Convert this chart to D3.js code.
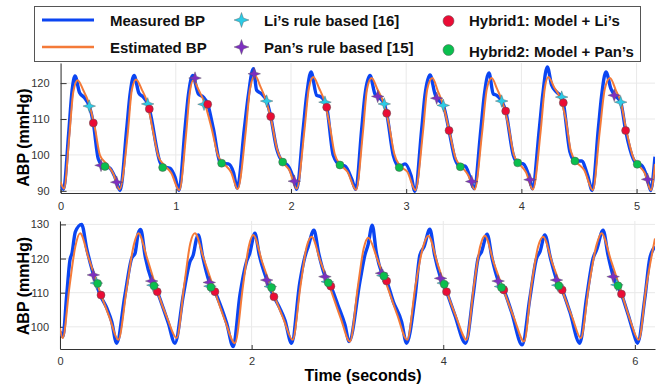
<!DOCTYPE html>
<html>
<head>
<meta charset="utf-8">
<script src="https://cdn.jsdelivr.net/npm/d3@7/dist/d3.min.js"></script>
<style>
  body { margin: 0; background: #fff; }
  svg { display: block; font-family: "Liberation Sans", Arial, Helvetica, sans-serif; }
  .axis path, .axis line { stroke: #333; }
  .axis text { fill: #333; font-size: 11px; font-family: "Liberation Sans", Arial, sans-serif; }
</style>
</head>
<body>
<svg id="chart" width="661" height="387"></svg>
<script>
// ---------- data (time in s, pressure in mmHg) ----------
const measuredTop = [
  [0, 91.6], [0.025, 90.4], [0.07, 106], [0.1, 118], [0.125, 122.0], [0.165, 117.3], [0.205, 116.0], [0.249, 113.6], [0.284, 108.9], [0.327, 98.9], [0.356, 97.3], [0.385, 96.9], [0.429, 96.3], [0.472, 93.8], [0.516, 90.1],
  [0.574, 107.3], [0.602, 116.6], [0.638, 122.1], [0.68, 117.2], [0.715, 116.2], [0.756, 114.2], [0.77, 112.8], [0.863, 98.0], [0.886, 96.8], [0.95, 96.3], [0.993, 93.8], [1.028, 90.1],
  [1.08, 107.3], [1.109, 116.6], [1.147, 122.1], [1.196, 117.0], [1.239, 116.1], [1.277, 114.1], [1.326, 107.3], [1.384, 98.0], [1.41, 97.6], [1.456, 97.5], [1.5, 95.2], [1.534, 90.8],
  [1.595, 107.3], [1.63, 116.6], [1.673, 124.0], [1.702, 118.0], [1.745, 117.0], [1.789, 115.0], [1.824, 110.7], [1.876, 101.7], [1.928, 98.0], [1.971, 97.1], [2.029, 92.7], [2.049, 90.4],
  [2.106, 107.3], [2.136, 116.6], [2.174, 123.1], [2.223, 116.6], [2.26, 116.2], [2.295, 114.7], [2.31, 113.3], [2.367, 99.9], [2.425, 97.2], [2.469, 96.9], [2.527, 93.3], [2.562, 90.4],
  [2.614, 107.3], [2.642, 116.6], [2.686, 122.1], [2.729, 117.0], [2.753, 116.3], [2.81, 114.2], [2.831, 111.6], [2.888, 99.9], [2.94, 96.7], [2.99, 97.5], [3.042, 94.3], [3.076, 89.9],
  [3.135, 107.3], [3.163, 116.6], [3.207, 122.3], [3.25, 117.0], [3.265, 115.9], [3.322, 113.8], [3.372, 106.8], [3.424, 98.9], [3.47, 96.8], [3.51, 96.9], [3.554, 93.8], [3.589, 90.6],
  [3.649, 107.3], [3.678, 116.6], [3.719, 122.8], [3.756, 117.0], [3.786, 116.6], [3.829, 115.0], [3.864, 112.2], [3.93, 99.9], [3.968, 97.8], [4.017, 97.5], [4.075, 93.1], [4.095, 90.6],
  [4.156, 107.3], [4.185, 116.6], [4.225, 124.5], [4.263, 119.4], [4.306, 117.5], [4.35, 116.1], [4.364, 114.5], [4.422, 100.8], [4.465, 98.3], [4.523, 98.3], [4.575, 94.3], [4.615, 90.1],
  [4.668, 107.3], [4.697, 116.6], [4.734, 123.1], [4.778, 118.4], [4.806, 116.8], [4.862, 114.7], [4.905, 106.8], [4.971, 98.9], [5.006, 97.4], [5.044, 97.1], [5.096, 93.2], [5.122, 90.1], [5.16, 99.5]
];
const estimatedTop = [
  [0, 92.5], [0.03, 90.6], [0.075, 105], [0.11, 117.5], [0.148, 120.8], [0.197, 118.0], [0.241, 114.8], [0.298, 107.5], [0.342, 99.9], [0.40, 97.5], [0.457, 94.8], [0.512, 90.4],
  [0.583, 106], [0.618, 118], [0.655, 121.0], [0.705, 118.2], [0.75, 114.8], [0.80, 107], [0.85, 99.5], [0.905, 97.0], [0.96, 95.0], [1.03, 90.2],
  [1.09, 106], [1.122, 117.5], [1.152, 120.8], [1.20, 118.0], [1.25, 114.5], [1.31, 107.5], [1.37, 99.5], [1.42, 97.5], [1.48, 95.2], [1.537, 90.5],
  [1.607, 106.5], [1.645, 118.5], [1.688, 122.1], [1.735, 119.0], [1.785, 115.0], [1.83, 109.5], [1.88, 101.5], [1.935, 97.8], [1.985, 95.8], [2.05, 90.6],
  [2.117, 107], [2.155, 118.5], [2.194, 121.7], [2.245, 118.5], [2.29, 115.0], [2.335, 108.5], [2.38, 100.2], [2.43, 97.3], [2.49, 95.3], [2.565, 90.3],
  [2.625, 106.5], [2.66, 118.3], [2.70, 121.4], [2.75, 118.3], [2.80, 114.8], [2.85, 108.5], [2.895, 100.5], [2.945, 97.0], [3.01, 95.3], [3.08, 90.2],
  [3.146, 106.5], [3.183, 118.3], [3.227, 121.4], [3.275, 117.8], [3.32, 114.0], [3.375, 106.5], [3.43, 99.0], [3.48, 96.8], [3.54, 94.3], [3.595, 90.4],
  [3.66, 106.5], [3.70, 118.3], [3.742, 121.4], [3.79, 118.3], [3.835, 114.8], [3.885, 108.5], [3.935, 100.0], [3.98, 97.6], [4.04, 95.2], [4.10, 90.4],
  [4.167, 106.5], [4.203, 118.5], [4.234, 121.7], [4.285, 118.8], [4.335, 116.0], [4.385, 110.0], [4.43, 101.0], [4.48, 98.0], [4.545, 95.8], [4.62, 90.2],
  [4.68, 106.5], [4.725, 118.5], [4.769, 121.4], [4.82, 118.0], [4.865, 114.5], [4.91, 107.0], [4.975, 99.0], [5.015, 97.2], [5.07, 95.0], [5.125, 90.2], [5.16, 97.5]
];
const liTop = [[0.249, 113.6], [0.756, 114.2], [1.245, 114.1], [1.789, 115.0], [2.295, 114.7], [2.81, 114.2], [3.322, 113.8], [3.829, 115.0], [4.35, 116.1], [4.862, 114.7]];
const panTop = [[0.351, 97.1], [0.487, 92.4], [1.167, 121.4], [1.681, 122.6], [2.029, 92.7], [2.753, 116.3], [3.265, 115.8], [3.569, 92.6], [4.075, 93.1], [4.806, 116.6], [5.096, 93.2]];
const hybrid1Top = [[0.284, 108.9], [0.77, 112.8], [1.277, 114.1], [1.824, 110.7], [2.31, 113.3], [2.831, 111.6], [3.372, 106.8], [3.864, 112.2], [4.364, 114.5], [4.905, 106.8]];
const hybrid2Top = [[0.385, 96.8], [0.886, 96.5], [1.398, 97.7], [1.928, 98.0], [2.425, 97.2], [2.94, 96.5], [3.47, 96.7], [3.968, 97.8], [4.465, 98.3], [5.006, 97.4]];

const measuredBottom = [
  [0, 98.6], [0.03, 97.1], [0.07, 109.3], [0.104, 119.6], [0.125, 121.5], [0.16, 127.8], [0.226, 130.0], [0.278, 123.0], [0.348, 115.4], [0.42, 109.3], [0.49, 105.4], [0.54, 101.5], [0.591, 95.2],
  [0.678, 109.3], [0.748, 120.1], [0.783, 121.5], [0.817, 127.4], [0.842, 128.5], [0.89, 120.5], [0.957, 113.6], [1.015, 110.3], [1.078, 105.4], [1.13, 101.1], [1.2, 95.2],
  [1.287, 109.3], [1.356, 119.1], [1.39, 121.0], [1.426, 125.9], [1.443, 126.9], [1.49, 120.5], [1.558, 113.2], [1.617, 110.3], [1.687, 105.4], [1.739, 101.1], [1.808, 94.2],
  [1.878, 109.3], [1.947, 119.1], [1.98, 121.5], [2.034, 127.4], [2.08, 121.0], [2.157, 113.9], [2.233, 108.8], [2.295, 105.4], [2.347, 102.0], [2.417, 95.2],
  [2.504, 113.2], [2.556, 120.5], [2.59, 123.5], [2.65, 128.3], [2.70, 121.5], [2.765, 114.9], [2.827, 111.8], [2.90, 106.4], [2.974, 100.6], [3.018, 95.7],
  [3.13, 113.2], [3.182, 121.0], [3.215, 124.0], [3.259, 129.8], [3.30, 122.0], [3.356, 115.9], [3.409, 113.4], [3.478, 107.4], [3.565, 101.5], [3.617, 95.2],
  [3.704, 108.4], [3.756, 121.0], [3.80, 123.5], [3.86, 128.6], [3.91, 121.0], [3.972, 114.4], [4.034, 110.3], [4.12, 103.5], [4.233, 95.2],
  [4.312, 109.3], [4.364, 120.1], [4.40, 122.0], [4.458, 127.1], [4.51, 120.0], [4.573, 113.6], [4.632, 110.8], [4.712, 104.4], [4.824, 94.7],
  [4.904, 108.4], [4.974, 120.1], [5.01, 122.0], [5.06, 126.9], [5.12, 120.0], [5.182, 113.9], [5.241, 110.8], [5.321, 104.4], [5.425, 95.2],
  [5.495, 108.4], [5.564, 120.1], [5.60, 122.5], [5.668, 128.3], [5.72, 121.0], [5.773, 114.9], [5.86, 109.6], [5.93, 103.5], [5.982, 98.6], [6.027, 95.2],
  [6.104, 108.4], [6.156, 120.1], [6.21, 123.5]
];
const estimatedBottom = [
  [0, 99.6], [0.028, 96.7], [0.10, 112], [0.16, 123.5], [0.209, 127.4], [0.30, 120], [0.42, 110], [0.52, 102.5], [0.608, 96.2],
  [0.70, 112], [0.77, 124], [0.817, 127.4], [0.91, 120], [1.02, 110], [1.12, 102.5], [1.217, 96.7],
  [1.30, 113], [1.36, 124.5], [1.408, 127.4], [1.50, 120], [1.62, 110], [1.72, 102], [1.826, 95.2],
  [1.91, 112], [1.97, 123.5], [2.017, 126.9], [2.11, 119], [2.23, 109.5], [2.33, 102.5], [2.428, 96.2],
  [2.51, 112], [2.575, 123.5], [2.626, 126.4], [2.72, 119], [2.83, 110.5], [2.93, 102.5], [3.026, 95.7],
  [3.11, 112], [3.17, 123], [3.217, 126.1], [3.31, 120], [3.42, 111.5], [3.52, 103.5], [3.624, 96.2],
  [3.71, 112], [3.79, 123.5], [3.843, 126.7], [3.94, 118.5], [4.04, 110], [4.14, 102.5], [4.243, 96.2],
  [4.32, 112], [4.385, 123.5], [4.434, 126.7], [4.53, 118.5], [4.64, 110], [4.74, 102.5], [4.844, 95.7],
  [4.92, 112], [4.99, 123.5], [5.042, 126.4], [5.14, 118.5], [5.25, 110], [5.35, 102.5], [5.435, 96.7],
  [5.52, 112], [5.60, 124], [5.651, 127.4], [5.75, 119.5], [5.86, 110], [5.95, 102], [6.04, 96.2],
  [6.12, 112], [6.21, 125.9]
];
const liBottom = [[0.38, 112.8], [0.97, 112.2], [1.565, 111.9], [2.195, 111.8], [2.79, 113.2], [3.37, 115.0], [4.0, 112.8], [4.598, 111.8], [5.195, 112.2], [5.812, 112.3]];
const panBottom = [[0.348, 115.2], [0.957, 113.4], [1.558, 113.0], [2.157, 113.7], [2.765, 114.7], [3.356, 115.7], [3.972, 114.2], [4.573, 113.4], [5.182, 113.7], [5.773, 114.7]];
const hybrid1Bottom = [[0.428, 109.3], [1.015, 110.3], [1.617, 110.3], [2.233, 108.8], [2.827, 111.9], [3.409, 113.4], [4.034, 110.3], [4.632, 110.8], [5.241, 110.8], [5.86, 109.6]];
const hybrid2Bottom = [[0.393, 112.7], [0.981, 112.0], [1.575, 111.6], [2.208, 111.5], [2.8, 112.9], [3.38, 114.9], [4.01, 112.5], [4.608, 111.5], [5.206, 112.0], [5.825, 112.0]];

const topXTicks = [0, 1, 2, 3, 4, 5];
const topYTicks = [90, 100, 110, 120];
const bottomXTicks = [0, 2, 4, 6];
const bottomYTicks = [100, 110, 120, 130];

const legendNames = ['Measured BP', 'Estimated BP', 'Li\u2019s rule based [16]', 'Pan\u2019s rule based [15]', 'Hybrid1: Model + Li\u2019s', 'Hybrid2: Model + Pan\u2019s'];

// ---------- styles ----------
const colors = {
    measured: '#0b45f2',
    estimated: '#f47a38',
    li: '#2ccbe6',
    pan: '#7d2fc0',
    hybrid1: '#ea0c35',
    hybrid2: '#0abf4e'
};

const svg = d3.select('#chart');

// 4角星
const starPath = (r) => {
    const w = r * 0.26;
    return `M0,${-r}L${w},${-w}L${r},0L${w},${w}L0,${r}L${-w},${w}L${-r},0L${-w},${-w}Z`;
};

function drawPanel(cfg) {
    const x = d3.scaleLinear().domain(cfg.xDomain).range([cfg.left, cfg.right]);
    const y = d3.scaleLinear().domain(cfg.yDomain).range([cfg.bottom, cfg.top]);
    const g = svg.append('g');

    // 网格
    g.append('g').selectAll('line').data(cfg.xTicks).enter().append('line')
        .attr('x1', d => x(d)).attr('x2', d => x(d))
        .attr('y1', cfg.top).attr('y2', cfg.bottom)
        .attr('stroke', '#e9e9e9');
    g.append('g').selectAll('line').data(cfg.yTicks).enter().append('line')
        .attr('x1', cfg.left).attr('x2', cfg.right)
        .attr('y1', d => y(d)).attr('y2', d => y(d))
        .attr('stroke', '#e9e9e9');

    // 坐标轴
    g.append('g').attr('class', 'axis')
        .attr('transform', `translate(0, ${cfg.bottom})`)
        .call(d3.axisBottom(x).tickValues(cfg.xTicks).tickFormat(d3.format('d')).tickSizeInner(-4).tickSizeOuter(0).tickPadding(cfg.xPad));
    g.append('g').attr('class', 'axis')
        .attr('transform', `translate(${cfg.left}, 0)`)
        .call(d3.axisLeft(y).tickValues(cfg.yTicks).tickFormat(d3.format('d')).tickSizeInner(-6).tickSizeOuter(0).tickPadding(11));

    const clipId = 'clip_' + cfg.name;
    svg.append('clipPath').attr('id', clipId).append('rect')
        .attr('x', cfg.left).attr('y', cfg.top - 6)
        .attr('width', cfg.right - cfg.left).attr('height', cfg.bottom - cfg.top + 6);

    const line = d3.line().x(d => x(d[0])).y(d => y(d[1])).curve(d3.curveMonotoneX);
    const plot = g.append('g').attr('clip-path', `url(#${clipId})`);
    plot.append('path').datum(cfg.measured)
        .attr('d', line).attr('fill', 'none')
        .attr('stroke', colors.measured).attr('stroke-width', 3.4).attr('stroke-linejoin', 'round');
    plot.append('path').datum(cfg.estimated)
        .attr('d', line).attr('fill', 'none')
        .attr('stroke', colors.estimated).attr('stroke-width', 2).attr('stroke-linejoin', 'round');

    // 标记点
    const drawStars = (data, color) => {
        g.append('g').selectAll('path').data(data).enter().append('path')
            .attr('d', starPath(6.3))
            .attr('transform', d => `translate(${x(d[0])}, ${y(d[1])})`)
            .attr('fill', color).attr('stroke', '#555').attr('stroke-width', 0.4);
    };
    const drawDots = (data, color) => {
        g.append('g').selectAll('circle').data(data).enter().append('circle')
            .attr('cx', d => x(d[0])).attr('cy', d => y(d[1])).attr('r', 4)
            .attr('fill', color).attr('stroke', '#555').attr('stroke-width', 0.5);
    };
    drawStars(cfg.li, colors.li);
    drawStars(cfg.pan, colors.pan);
    drawDots(cfg.hybrid1, colors.hybrid1);
    drawDots(cfg.hybrid2, colors.hybrid2);

    svg.append('text')
        .attr('transform', `translate(29, ${cfg.labelY}) rotate(-90)`)
        .attr('text-anchor', 'middle')
        .style('font-size', '16px').style('font-weight', 'bold')
        .text('ABP (mmHg)');
}

drawPanel({
    name: 'top', left: 60.6, right: 655, top: 63, bottom: 193,
    xDomain: [0, 5.16], yDomain: [89.4, 125.6],
    xTicks: topXTicks, yTicks: topYTicks, xPad: 9, labelY: 137.5,
    measured: measuredTop, estimated: estimatedTop,
    li: liTop, pan: panTop, hybrid1: hybrid1Top, hybrid2: hybrid2Top
});
drawPanel({
    name: 'bottom', left: 60, right: 655, top: 221, bottom: 349,
    xDomain: [0, 6.21], yDomain: [93.5, 131],
    xTicks: bottomXTicks, yTicks: bottomYTicks, xPad: 8, labelY: 286,
    measured: measuredBottom, estimated: estimatedBottom,
    li: liBottom, pan: panBottom, hybrid1: hybrid1Bottom, hybrid2: hybrid2Bottom
});

svg.append('text')
    .attr('x', 363).attr('y', 381)
    .attr('text-anchor', 'middle')
    .style('font-size', '16px').style('font-weight', 'bold')
    .text('Time (seconds)');

// ---------- Legend ----------
const legendWarp = svg.append('g').attr('id', 'legend_warp');
legendWarp.append('rect')
    .attr('x', 34.5).attr('y', 6.5).attr('width', 606).attr('height', 55)
    .attr('fill', '#fff').attr('stroke', '#555').attr('stroke-width', 1);

legendWarp.append('line').attr('x1', 42).attr('x2', 94).attr('y1', 20).attr('y2', 20)
    .attr('stroke', colors.measured).attr('stroke-width', 3);
legendWarp.append('line').attr('x1', 42).attr('x2', 94).attr('y1', 47).attr('y2', 47)
    .attr('stroke', colors.estimated).attr('stroke-width', 2.5);
legendWarp.append('path').attr('d', starPath(7.5)).attr('transform', 'translate(241.5, 20)')
    .attr('fill', colors.li).attr('stroke', '#555').attr('stroke-width', 0.4);
legendWarp.append('path').attr('d', starPath(7.5)).attr('transform', 'translate(241.5, 47)')
    .attr('fill', colors.pan).attr('stroke', '#555').attr('stroke-width', 0.4);
legendWarp.append('circle').attr('cx', 448.5).attr('cy', 21).attr('r', 5.5)
    .attr('fill', colors.hybrid1).attr('stroke', '#555').attr('stroke-width', 0.5);
legendWarp.append('circle').attr('cx', 448.5).attr('cy', 50).attr('r', 5.5)
    .attr('fill', colors.hybrid2).attr('stroke', '#555').attr('stroke-width', 0.5);

const legendText = [
    { x: 110, y: 25.5 }, { x: 110, y: 53 },
    { x: 264, y: 25.5 }, { x: 264, y: 53 },
    { x: 469, y: 25.5 }, { x: 469, y: 57 }
];
legendWarp.selectAll('text.legend_name').data(legendNames).enter().append('text')
    .attr('class', 'legend_name')
    .attr('x', (d, i) => legendText[i].x)
    .attr('y', (d, i) => legendText[i].y)
    .style('font-size', '15px').style('font-weight', 'bold').attr('fill', '#111')
    .text(d => d);
</script>
</body>
</html>
